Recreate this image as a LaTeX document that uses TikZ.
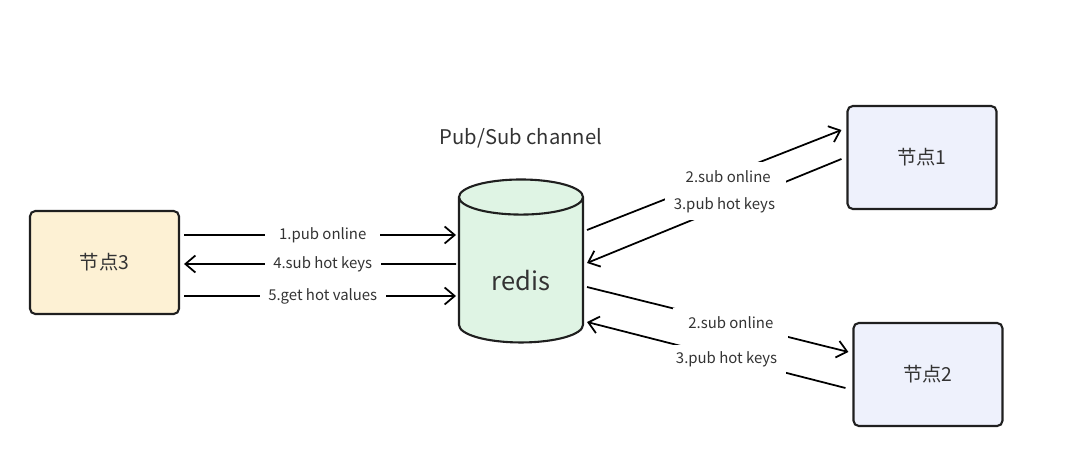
\documentclass[tikz,border=0pt]{standalone}
\usepackage{fontspec}
\setmainfont{Noto Sans CJK SC}
\usepackage{xcolor}
\usetikzlibrary{arrows.meta,positioning,shapes.geometric,calc}
\definecolor{nodeyellow}{HTML}{FDF1D4}
\definecolor{nodeblue}{HTML}{EEF1FC}
\definecolor{redisgreen}{HTML}{DFF4E4}
\definecolor{linedark}{HTML}{1F1F1F}

\begin{document}
\begin{tikzpicture}[x=0.02cm,y=-0.02cm,>={Straight Barb[length=2mm,width=3.4mm]},line width=1pt,
  box/.style={draw=linedark,line width=1.2pt,rounded corners=3pt,minimum width=2.98cm,minimum height=2.06cm,font=\fontsize{11}{13}\selectfont,text=black!80},
  lbl/.style={fill=white,inner xsep=4.8pt,minimum width=2.3cm,minimum height=0.6cm,font=\fontsize{8.5}{10}\selectfont,text=black!80}]
  \useasboundingbox (0,0) rectangle (1080,459);
  \node[box,fill=nodeyellow] (n3) at (104.5,262.5) {节点3};
  \node[box,fill=nodeblue] (n1) at (922,157.5) {节点1};
  \node[box,fill=nodeblue] (n2) at (928,374.5) {节点2};
  \node[draw=linedark,line width=1.2pt,fill=redisgreen,cylinder,shape border rotate=90,aspect=0.5,
    minimum width=2.48cm,minimum height=3.26cm,text height=0.68cm,text depth=0cm,
    font=\fontsize{14.5}{16}\selectfont,text=black!80] (redis) at (521,274) {redis};
  \node[font=\fontsize{11.5}{13}\selectfont,text=black!80] (chan) at (521,138) {Pub/Sub channel};
  % node 3 <-> redis
  \draw[->] ($(n3.east)+(4,-27.5)$) -- coordinate[pos=0.51] (m1) ($(redis.center)+(-65,-39)$);
  \draw[<-] ($(n3.east)+(4,1.5)$) -- coordinate[pos=0.51] (m2) ($(redis.center)+(-65,-10)$);
  \draw[->] ($(n3.east)+(4,33.5)$) -- coordinate[pos=0.51] (m3) ($(redis.center)+(-65,22)$);
  % redis <-> node 1
  \draw[->] ($(redis.center)+(66,-44)$) -- coordinate[pos=0.555] (m4) ($(n1.west)+(-5,-27.5)$);
  \draw[->] ($(n1.west)+(-5,1.5)$) -- coordinate[pos=0.46] (m5) ($(redis.center)+(66,-11)$);
  % redis <-> node 2
  \draw[->] ($(redis.center)+(66,13)$) -- coordinate[pos=0.55] (m6) ($(n2.west)+(-4,-22.5)$);
  \draw[->] ($(n2.west)+(-7,13.5)$) -- coordinate[pos=0.46] (m7) ($(redis.center)+(66,48)$);
  % labels on top of all lines
  \node[lbl] (l1) at (m1) {1.pub online};
  \node[lbl] (l4) at (m2) {4.sub hot keys};
  \node[lbl] (l5) at (m3) {5.get hot values};
  \node[lbl] (l2a) at ($(m4)+(0,2)$) {2.sub online};
  \node[lbl] (l3a) at ($(m5)+(0,-2)$) {3.pub hot keys};
  \node[lbl] (l2b) at (m6) {2.sub online};
  \node[lbl] (l3b) at ($(m7)+(0,2)$) {3.pub hot keys};
\end{tikzpicture}
\end{document}
